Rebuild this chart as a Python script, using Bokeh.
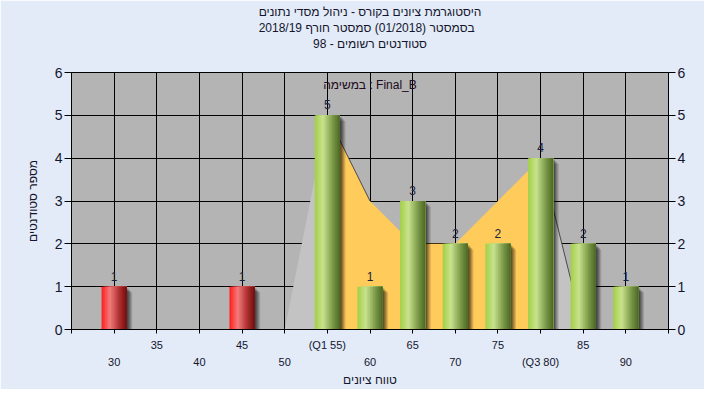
import numpy as np
from bokeh.plotting import figure
from bokeh.models import (Range1d, LinearAxis, FixedTicker, Title, Label,
                          LabelSet, ColumnDataSource)
from bokeh.core.properties import value
from bokeh.embed import file_html
from bokeh.resources import INLINE

# ---------------- data ----------------
title_lines = [
    "היסטוגרמת ציונים בקורס - ניהול מסדי נתונים",
    "בסמסטר  (01/2018)  סמסטר חורף 2018/19",
    "סטודנטים רשומים - 98",
]
subtitle = "במשימה : Final_B"
x_title = "טווח ציונים"
y_title = "מספר סטודנטים"

grades = [30, 45, 55, 60, 65, 70, 75, 80, 85, 90]
counts = [1, 1, 5, 1, 3, 2, 2, 4, 2, 1]
pass_grade = 55

curve_x = [50, 55, 60, 65, 70, 75, 80, 85, 90]
curve_y = [0, 5, 3, 2, 2, 3, 4, 0, 0]
q1, q3 = 55, 80

tick_row1 = {35: "35", 45: "45", 55: "(Q1 55)", 65: "65", 75: "75", 85: "85"}
tick_row2 = {30: "30", 40: "40", 50: "50", 60: "60", 70: "70", 80: "(Q3 80)", 90: "90"}
all_x_ticks = [25, 30, 35, 40, 45, 50, 55, 60, 65, 70, 75, 80, 85, 90, 95]
y_ticks = [0, 1, 2, 3, 4, 5, 6]

# ---------------- styles ----------------
FONT = "Liberation Sans"
TXT = "#15152e"
BAR_W = 2.95

p = figure(width=704, height=389, x_range=Range1d(25, 95), y_range=Range1d(0, 6),
           output_backend="svg", toolbar_location=None,
           min_border_left=71, min_border_right=36, min_border_top=72, min_border_bottom=59,
           background_fill_color="#b4b4b4", border_fill_color="#e2ebf7",
           outline_line_color="black", outline_line_width=1)

# spacer between frame and titles, then titles (later added = further from frame)
p.add_layout(Title(text=" ", text_font=FONT, text_font_size="12px", standoff=6), "above")
for line in reversed(title_lines):
    p.add_layout(Title(text=line, align="center", text_font=FONT, text_font_size="12px",
                       text_font_style="normal", text_color=TXT, standoff=0), "above")

# grids
p.xgrid.ticker = FixedTicker(ticks=[t for t in all_x_ticks if 25 < t < 95])
p.ygrid.ticker = FixedTicker(ticks=y_ticks)
for g in (p.xgrid, p.ygrid):
    g.grid_line_color = "black"
    g.grid_line_width = 1
    g.grid_line_alpha = 1

# ---------------- axes ----------------
xa = p.xaxis[0]
xa.ticker = FixedTicker(ticks=all_x_ticks, minor_ticks=[])
xa.major_label_overrides = {t: tick_row1.get(t, "") for t in all_x_ticks}
xa.major_tick_in = 0
xa.major_tick_out = 4
xa.minor_tick_line_color = None
xa.axis_line_color = "black"
xa.major_tick_line_color = "black"
xa.major_label_standoff = 5
xa.major_label_text_font = FONT
xa.major_label_text_font_size = "11px"
xa.major_label_text_color = TXT

xb = LinearAxis(ticker=FixedTicker(ticks=list(tick_row2.keys()), minor_ticks=[]),
                major_label_overrides=dict(tick_row2),
                axis_line_color=None, major_tick_line_color=None, minor_tick_line_color=None,
                major_tick_in=0, major_tick_out=0, major_label_standoff=2,
                major_label_text_font=FONT, major_label_text_font_size="11px",
                major_label_text_color=TXT,
                axis_label=x_title, axis_label_text_font=FONT,
                axis_label_text_font_size="12px", axis_label_text_font_style="normal",
                axis_label_text_color=TXT, axis_label_standoff=2)
p.add_layout(xb, "below")

ya = p.yaxis[0]
ya.ticker = FixedTicker(ticks=y_ticks, minor_ticks=[])
ra = LinearAxis(ticker=FixedTicker(ticks=y_ticks, minor_ticks=[]))
p.add_layout(ra, "right")
for ax in (ya, ra):
    ax.major_tick_in = 0
    ax.major_tick_out = 7
    ax.minor_tick_line_color = None
    ax.axis_line_color = "black"
    ax.major_tick_line_color = "black"
    ax.major_label_standoff = 2
    ax.major_label_text_font = FONT
    ax.major_label_text_font_size = "14px"
    ax.major_label_text_color = TXT
ya.axis_label = y_title
ya.axis_label_text_font = FONT
ya.axis_label_text_font_size = "12px"
ya.axis_label_text_font_style = "normal"
ya.axis_label_text_color = TXT
ya.axis_label_standoff = 12

# ---------------- area curve ----------------
cx = np.array(curve_x, dtype=float)
cy = np.array(curve_y, dtype=float)
m_left = cx <= q1
m_mid = (cx >= q1) & (cx <= q3)
m_right = cx >= q3
p.varea(x=cx[m_left], y1=0, y2=cy[m_left], fill_color="#c3c3c3")
p.varea(x=cx[m_right], y1=0, y2=cy[m_right], fill_color="#c3c3c3")
p.varea(x=cx[m_mid], y1=0, y2=cy[m_mid], fill_color="#ffcb5a")
drops = np.where(np.diff(cy) <= -2)[0]
p.multi_line(xs=[[cx[i], cx[i + 1]] for i in drops], ys=[[cy[i], cy[i + 1]] for i in drops],
             line_color="#4a4a4a", line_width=1)

# ---------------- bars ----------------
gx = np.array(grades, dtype=float)
gc = np.array(counts, dtype=float)

# soft shadow to the right
for k, a in zip([0.65, 0.5, 0.35, 0.2], [0.14, 0.18, 0.22, 0.26]):
    p.vbar(x=gx + k, top=gc - k * 0.2, bottom=0, width=BAR_W,
           fill_color="black", fill_alpha=a, line_color=None)


def interp_color(stops, t):
    for (t0, c0), (t1, c1) in zip(stops[:-1], stops[1:]):
        if t0 <= t <= t1:
            f = (t - t0) / (t1 - t0) if t1 > t0 else 0
            a = [int(c0[i:i + 2], 16) for i in (1, 3, 5)]
            b = [int(c1[i:i + 2], 16) for i in (1, 3, 5)]
            return "#%02x%02x%02x" % tuple(round(a[j] + (b[j] - a[j]) * f) for j in range(3))
    return stops[-1][1]


green_stops = [(0.0, "#a2cf46"), (0.33, "#c9e38f"), (0.7, "#7d9b4a"), (1.0, "#4b6824")]
red_stops = [(0.0, "#ff1c1c"), (0.33, "#f27c7c"), (0.7, "#b03030"), (1.0, "#6e0f0f")]
N = 16
sw = BAR_W / N
fail = gx < pass_grade
for j in range(N):
    t = (j + 0.5) / N
    cols = [interp_color(red_stops if f else green_stops, t) for f in fail]
    src = ColumnDataSource(dict(l=gx - BAR_W / 2 + sw * j, r=gx + BAR_W / 2, top=gc, c=cols))
    p.quad(left="l", right="r", top="top", bottom=0, fill_color="c",
           line_color=None, source=src)

# value labels
lsrc = ColumnDataSource(dict(x=gx, y=gc, t=[str(c) for c in counts]))
p.add_layout(LabelSet(x="x", y="y", text="t", source=lsrc, text_align="center",
                      text_baseline="alphabetic", y_offset=6, text_font=value(FONT),
                      text_font_size=value("12px"), text_color=value("#1a2040")))

# subtitle inside plot
p.add_layout(Label(x=(p.x_range.start + p.x_range.end) / 2, y=5.7, text=subtitle,
                   text_align="center", text_baseline="middle", text_font=FONT,
                   text_font_size="12px", text_color="#200a20"))

open("out.html", "w").write(file_html(p, INLINE))
